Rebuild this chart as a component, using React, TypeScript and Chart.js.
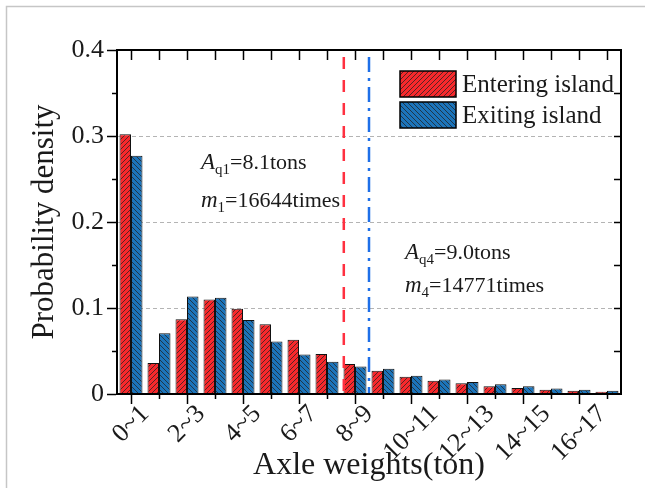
import React, { useEffect, useRef } from 'react';
import { Chart, registerables } from 'chart.js';

Chart.register(...registerables);

// ---- data ----
const categories = ['0~1', '1~2', '2~3', '3~4', '4~5', '5~6', '6~7', '7~8', '8~9', '9~10', '10~11', '11~12', '12~13', '13~14', '14~15', '15~16', '16~17', '17~18'];
const enteringIsland = [0.302, 0.036, 0.087, 0.110, 0.099, 0.081, 0.063, 0.0465, 0.035, 0.027, 0.020, 0.0155, 0.0124, 0.009, 0.007, 0.005, 0.0038, 0.0027];
const exitingIsland = [0.277, 0.0705, 0.1135, 0.112, 0.086, 0.061, 0.046, 0.0376, 0.032, 0.0295, 0.0213, 0.017, 0.014, 0.0112, 0.0089, 0.0065, 0.005, 0.0038];
const seriesLabels = ['Entering island', 'Exiting island'];
const yMin = 0;
const yMax = 0.4;
const yStep = 0.1;
const thresholdTons = [8.1, 9.0];
const annotationSymbols = ['A', 'A'];
const annotationSubs = ['q1', 'q4'];
const annotationValues = ['=8.1tons', '=9.0tons'];
const countSymbols = ['m', 'm'];
const countSubs = ['1', '4'];
const countValues = ['=16644times', '=14771times'];

const SERIF = "'Liberation Serif', 'Times New Roman', serif";
const RED = '#F7292C';
const BLUE = '#1C74BA';
const TEXT = '#1a1a1a';

function makeHatch(color: string, forward: boolean): CanvasPattern | string {
  const s = 5;
  const c = document.createElement('canvas');
  c.width = s;
  c.height = s;
  const g = c.getContext('2d');
  if (!g) return color;
  g.fillStyle = color;
  g.fillRect(0, 0, s, s);
  g.strokeStyle = '#222';
  g.lineWidth = 0.75;
  g.beginPath();
  if (forward) {
    g.moveTo(-1, s + 1); g.lineTo(s + 1, -1);
    g.moveTo(-1, 1); g.lineTo(1, -1);
    g.moveTo(s - 1, s + 1); g.lineTo(s + 1, s - 1);
  } else {
    g.moveTo(-1, -1); g.lineTo(s + 1, s + 1);
    g.moveTo(s - 1, -1); g.lineTo(s + 1, 1);
    g.moveTo(-1, s - 1); g.lineTo(1, s + 1);
  }
  g.stroke();
  return g.createPattern(c, 'repeat') || color;
}

type Part = { text: string; font: string; dy?: number };
function drawRich(ctx: CanvasRenderingContext2D, x: number, y: number, parts: Part[]) {
  let cx = x;
  for (const p of parts) {
    ctx.font = p.font;
    ctx.fillText(p.text, cx, y + (p.dy || 0));
    cx += ctx.measureText(p.text).width;
  }
}

const overlayPlugin = {
  id: 'overlay',
  beforeDraw(chart: any) {
    const ctx: CanvasRenderingContext2D = chart.ctx;
    ctx.save();
    ctx.strokeStyle = '#c6c6c6';
    ctx.lineWidth = 1.5;
    ctx.beginPath();
    ctx.moveTo(6.5, chart.height);
    ctx.lineTo(6.5, 6.5);
    ctx.lineTo(chart.width, 6.5);
    ctx.stroke();
    ctx.restore();
  },
  afterDatasetsDraw(chart: any) {
    const ctx: CanvasRenderingContext2D = chart.ctx;
    const a = chart.chartArea;
    const x = chart.scales.x;
    const y = chart.scales.y;

    // threshold lines
    const lineColors = ['#FF3040', '#1E6FE8'];
    const lineDashes = [[12, 11], [15, 6, 3, 6]];
    thresholdTons.forEach((t, i) => {
      const px = x.getPixelForValue(t - 0.5);
      ctx.save();
      ctx.strokeStyle = lineColors[i];
      ctx.lineWidth = 2.5;
      ctx.setLineDash(lineDashes[i]);
      ctx.beginPath();
      ctx.moveTo(px, a.top + 7);
      ctx.lineTo(px, a.bottom);
      ctx.stroke();
      ctx.restore();
    });

    // frame and ticks
    ctx.save();
    ctx.strokeStyle = '#000';
    ctx.lineWidth = 2;
    ctx.strokeRect(a.left, a.top, a.right - a.left, a.bottom - a.top);
    ctx.lineWidth = 1.5;
    ctx.beginPath();
    const nY = Math.round((yMax - yMin) / (yStep / 2));
    for (let k = 1; k < nY; k++) {
      const v = yMin + (k * yStep) / 2;
      const py = Math.round(y.getPixelForValue(v)) + 0.5;
      if (k % 2 === 1) {
        ctx.moveTo(a.left - 5, py);
        ctx.lineTo(a.left, py);
      }
      ctx.moveTo(a.right, py);
      ctx.lineTo(a.right - 7, py);
    }
    categories.forEach((_c, i) => {
      const px = Math.round(x.getPixelForValue(i)) + 0.5;
      ctx.moveTo(px, a.top);
      ctx.lineTo(px, a.top + 10);
      if (i % 2 === 1) {
        ctx.moveTo(px, a.bottom);
        ctx.lineTo(px, a.bottom + 5);
      }
    });
    ctx.stroke();
    ctx.restore();

    // x tick labels (rotated 45°, centred under each labelled tick)
    ctx.save();
    ctx.fillStyle = TEXT;
    ctx.font = `26px ${SERIF}`;
    ctx.textAlign = 'center';
    ctx.textBaseline = 'middle';
    categories.forEach((label, i) => {
      if (i % 2 !== 0) return;
      const px = x.getPixelForValue(i);
      const w = ctx.measureText(label).width;
      const cy = a.bottom + 16 + 0.354 * w;
      ctx.save();
      ctx.translate(px, cy);
      ctx.rotate(-Math.PI / 4);
      ctx.fillText(label, 0, 0);
      ctx.restore();
    });
    ctx.restore();

    // legend
    ctx.save();
    chart.data.datasets.forEach((ds: any, i: number) => {
      const bx = a.right - 221;
      const by = a.top + 21 + i * 31;
      const bw = 56;
      const bh = 26;
      ctx.fillStyle = ds.backgroundColor;
      ctx.fillRect(bx, by, bw, bh);
      ctx.strokeStyle = '#000';
      ctx.lineWidth = 1.5;
      ctx.strokeRect(bx, by, bw, bh);
      ctx.fillStyle = TEXT;
      ctx.font = `25px ${SERIF}`;
      ctx.textBaseline = 'middle';
      ctx.textAlign = 'left';
      ctx.fillText(ds.label, bx + bw + 6, by + bh / 2 + 1);
    });
    ctx.restore();

    // annotations
    ctx.save();
    ctx.fillStyle = TEXT;
    ctx.textBaseline = 'alphabetic';
    ctx.textAlign = 'left';
    const pos = [
      { x: 201, y1: 169, y2: 207 },
      { x: 405, y1: 259, y2: 292 },
    ];
    pos.forEach((p, i) => {
      drawRich(ctx, p.x, p.y1, [
        { text: annotationSymbols[i], font: `italic 23px ${SERIF}` },
        { text: annotationSubs[i], font: `15px ${SERIF}`, dy: 5 },
        { text: annotationValues[i], font: `22px ${SERIF}` },
      ]);
      drawRich(ctx, p.x, p.y2, [
        { text: countSymbols[i], font: `italic 23px ${SERIF}` },
        { text: countSubs[i], font: `15px ${SERIF}`, dy: 5 },
        { text: countValues[i], font: `22px ${SERIF}` },
      ]);
    });
    ctx.restore();
  },
};

export default function App() {
  const canvasRef = useRef<HTMLCanvasElement | null>(null);

  useEffect(() => {
    const canvas = canvasRef.current;
    if (!canvas) return;
    const redHatch = makeHatch(RED, true);
    const blueHatch = makeHatch(BLUE, false);

    const chart = new Chart(canvas, {
      type: 'bar',
      data: {
        labels: categories,
        datasets: [
          {
            label: seriesLabels[0],
            data: enteringIsland,
            backgroundColor: redHatch as any,
            borderColor: '#111',
            borderWidth: 1,
            categoryPercentage: 0.82,
            barPercentage: 1.0,
          },
          {
            label: seriesLabels[1],
            data: exitingIsland,
            backgroundColor: blueHatch as any,
            borderColor: '#111',
            borderWidth: 1,
            categoryPercentage: 0.82,
            barPercentage: 1.0,
          },
        ],
      },
      options: {
        responsive: false,
        animation: false,
        devicePixelRatio: 1,
        layout: { padding: { top: 50, right: 24, left: 0, bottom: 0 } },
        plugins: {
          legend: { display: false },
          tooltip: { enabled: false },
        },
        scales: {
          x: {
            offset: true,
            grid: {
              offset: false,
              drawOnChartArea: false,
              tickLength: 10,
              tickWidth: 1.5,
              tickColor: (c: any) => (c.index % 2 === 0 ? '#000' : 'rgba(0,0,0,0)'),
            },
            border: { display: true, color: '#000', width: 2 },
            ticks: {
              display: false,
              autoSkip: false,
            },
            title: {
              display: true,
              text: 'Axle weights(ton)',
              color: TEXT,
              font: { family: SERIF, size: 32 },
              padding: { top: 0, bottom: 3 },
            },
            afterFit: (scale: any) => {
              scale.height = 94;
            },
          },
          y: {
            min: yMin,
            max: yMax,
            ticks: {
              stepSize: yStep,
              padding: 3,
              color: TEXT,
              font: { family: SERIF, size: 26 },
            },
            grid: {
              color: (c: any) => {
                const v = c.tick ? c.tick.value : 0;
                return v > 0.001 && v < yMax - 0.001 ? '#b4b4b4' : 'rgba(0,0,0,0)';
              },
              lineWidth: 1,
              tickColor: '#000',
              tickWidth: 1.5,
              tickLength: 10,
              tickBorderDash: [],
            },
            border: { display: true, color: '#000', width: 2, dash: [4, 3] },
            title: {
              display: true,
              text: 'Probability density',
              color: TEXT,
              font: { family: SERIF, size: 31 },
              padding: { top: 26, bottom: 0 },
            },
            afterFit: (scale: any) => {
              scale.width = 117;
            },
          },
        },
      },
      plugins: [overlayPlugin],
    });

    return () => chart.destroy();
  }, []);

  return (
    <div style={{ position: 'absolute', left: 0, top: 0, width: 645, height: 488, background: '#fff' }}>
      <canvas ref={canvasRef} width={645} height={488} style={{ display: 'block' }} />
    </div>
  );
}
